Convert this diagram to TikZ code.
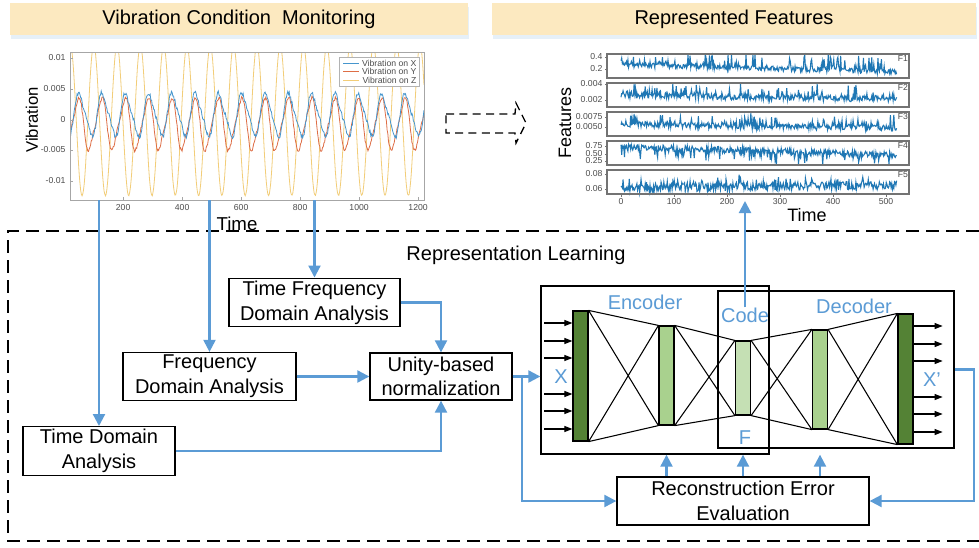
\documentclass[tikz,border=0pt]{standalone}
\usepackage{fontspec}
\setmainfont{Liberation Sans}
\usetikzlibrary{arrows.meta, calc, positioning, shadows}
\definecolor{flowblue}{RGB}{91,155,213}
\definecolor{barfill}{RGB}{252,233,192}
\definecolor{darkgreen}{RGB}{84,130,53}
\definecolor{midgreen}{RGB}{169,209,142}
\definecolor{palegreen}{RGB}{197,224,180}
\definecolor{plotx}{RGB}{70,150,205}
\definecolor{ploty}{RGB}{222,110,70}
\definecolor{plotz}{RGB}{242,205,120}
\definecolor{featblue}{RGB}{31,119,180}
\tikzstyle{flow} = [draw=flowblue, line width=1.6pt, -{Triangle[length=9pt,width=9pt]}]

\begin{document}
\begin{tikzpicture}[x=0.75pt, y=-0.75pt,
    font=\fontsize{15}{18.5}\selectfont,
    titlebar/.style={rectangle, fill=barfill, minimum height=24pt, inner sep=0pt,
                     drop shadow={shadow xshift=0.8pt, shadow yshift=-3pt, opacity=0.6, fill=flowblue!25}},
    procbox/.style={rectangle, draw, line width=1pt, align=center, inner sep=2pt},
    netbox/.style={rectangle, draw, line width=1pt, inner sep=0pt},
    nnlayer/.style={rectangle, draw, line width=0.9pt, minimum width=11.25pt, inner sep=0pt},
    bluelbl/.style={text=flowblue, inner sep=0pt},
    ticklbl/.style={font=\fontsize{6.5}{7}\selectfont, text=black!70, inner sep=1pt},
    panel/.style={rectangle, draw=black!55, line width=0.8pt, minimum width=226.5pt,
                  minimum height=18pt, inner sep=0pt},
    wire/.style={line width=0.8pt},
    inarr/.style={line width=0.8pt, -{Triangle[length=6pt,width=4.5pt]}},
]
\path[use as bounding box, fill=white] (0,0) rectangle (979,547);

% Header bars
\node[titlebar, minimum width=343.5pt] (vcm) at (239,19) {Vibration Condition\ \ Monitoring};
\node[titlebar, minimum width=363pt] (rfeat) at (734,19) {Represented Features};

% Raw vibration signals (period 79 samples)
\begin{scope}
  \clip (70,52) rectangle (424,200);
  \pgfmathsetseed{7}
  \draw[plotz, line width=0.6pt] plot[domain=20:1220, samples=500]
      ({70+0.295*(\x-20)}, {120+75*cos(4.557*(\x-61))+rnd});
  \draw[ploty, line width=0.6pt] plot[domain=20:1220, samples=500]
      ({70+0.295*(\x-20)}, {120-6.15*(-1+4*sin(4.557*(\x-27))-0.8*sin(9.114*(\x-27))+0.6*rnd)});
  \draw[plotx, line width=0.6pt] plot[domain=20:1220, samples=500]
      ({70+0.295*(\x-20)}, {120-6.15*(0.5+3.3*sin(4.557*(\x-112))+0.7*sin(9.114*(\x-112))+0.7*rnd)});
\end{scope}
\node[rectangle, draw=black!35, line width=0.6pt, minimum width=265.5pt, minimum height=111pt,
      inner sep=0pt] (vib) at (247,126) {};
\foreach \yv/\tv in {58/0.01, 89/0.005, 120/0, 150/-0.005, 181/-0.01} {
  \draw[black!35] (70,\yv) -- (73,\yv);
  \node[ticklbl, anchor=east] at (67,\yv) {\tv};
}
\foreach \tv in {200,400,...,1200} {
  \draw[black!35] ({70+0.295*(\tv-20)},200) -- ({70+0.295*(\tv-20)},197);
  \node[ticklbl] at ({70+0.295*(\tv-20)},208) {\tv};
}
\node[rotate=90, font=\fontsize{12.5}{14}\selectfont] (vlab) at (32,120) {Vibration};
\node[font=\fontsize{14}{16}\selectfont] (vtime) at (237,224) {Time};

% legend
\node[rectangle, draw=black!30, fill=white, minimum width=60pt, minimum height=21.75pt,
      inner sep=0pt] (legend) at (379,71.5) {};
\foreach \yv/\col/\ax in {63/plotx/X, 71.5/ploty/Y, 80/plotz/Z} {
  \draw[\col, line width=0.6pt] (343,\yv) -- (359,\yv);
  \node[ticklbl, anchor=east] at (418,\yv) {Vibration on \ax};
}

% Block arrow between the two plots
\draw[line width=1pt, dash pattern=on 6pt off 4pt]
  (446,114) -- (515,114) -- (516,103) -- (526,123) -- (516,143) -- (515,133) -- (446,133) -- cycle;

% Feature traces F1..F5
\pgfmathsetseed{21}
\foreach \cy/\ya/\yb/\ns/\sp in {66/0.15/0.3/0.2/0.65, 95/0.2/0.15/0.25/0.5,
    124/0.2/0.15/0.25/0.5, 153/0.3/0.35/0.25/-0.45, 182/0.2/-0.15/0.35/0.35}
  \draw[featblue, line width=0.8pt] plot[domain=0:520, samples=400]
      ({621+0.53*\x}, {\cy+12-24*min(0.95,max(0.04,\ya+\yb*(1-\x/520)+\ns*rnd+\sp*rnd^8))});
\foreach \i/\cy in {1/66, 2/95, 3/124, 4/153, 5/182} {
  \node[panel] (f\i) at (758,\cy) {};
  \node[ticklbl, anchor=north east] at (f\i.north east) {F\i};
}
\foreach \yv/\tv in {57/0.4, 69/0.2, 84/0.004, 100/0.002, 117/0.0075, 127/0.0050,
    146/0.75, 154/0.50, 161/0.25, 174/0.08, 189/0.06} {
  \draw[black!55] (605,\yv) -- (607,\yv);
  \node[ticklbl, anchor=east] at (604,\yv) {\tv};
}
\foreach \tv in {0,100,...,500} {
  \draw[black!55] ({621+0.53*\tv},194) -- ({621+0.53*\tv},197);
  \node[ticklbl] at ({621+0.53*\tv},202) {\tv};
}
\node[rotate=90, font=\fontsize{13.5}{15}\selectfont] (flab) at (565,123) {Features};
\node[font=\fontsize{13.5}{15}\selectfont] (ftime) at (807,215) {Time};
\coordinate (featfoot) at (745,201);

% Representation learning frame
\draw[line width=1pt, dash pattern=on 10pt off 5pt] (979,231) -- (8,231) -- (8,541) -- (979,541);
\node (replbl) at (516,255) {Representation Learning};

% Feature extraction boxes
\node[procbox, minimum width=128.25pt, minimum height=35.25pt] (tfda) at (314.5,302.5)
    {Time Frequency\\Domain Analysis};
\node[procbox, minimum width=129.75pt, minimum height=35.25pt] (fda) at (209.5,376.5)
    {Frequency\\Domain Analysis};
\node[procbox, minimum width=106.5pt, minimum height=35.25pt] (norm) at (441,376.5)
    {Unity-based\\normalization};
\node[procbox, minimum width=114pt, minimum height=36pt] (tda) at (99,451)
    {Time Domain\\Analysis};
\node[procbox, minimum width=189pt, minimum height=36pt] (recon) at (743,501)
    {Reconstruction Error\\Evaluation};

% Autoencoder
\node[netbox, minimum width=171pt, minimum height=126pt] (enc) at (655,370) {};
\node[netbox, minimum width=177pt, minimum height=117.75pt] (dec) at (836,369.5) {};

\node[nnlayer, fill=darkgreen, minimum height=97.5pt] (l1) at (580.5,376) {};
\node[nnlayer, fill=midgreen, minimum height=74.25pt] (l2) at (666.5,375.5) {};
\node[nnlayer, fill=palegreen, minimum height=55.5pt] (l3) at (743,378) {};
\node[nnlayer, fill=midgreen, minimum height=74.25pt] (l4) at (820,379.5) {};
\node[nnlayer, fill=darkgreen, minimum height=97.5pt] (l5) at (905.5,379) {};
\foreach \la/\lb in {l1/l2, l2/l3, l3/l4, l4/l5}
  \draw[wire] (\la.north east) -- (\lb.north west) (\la.south east) -- (\lb.south west)
              (\la.north east) -- (\lb.south west) (\la.south east) -- (\lb.north west);
\foreach \dy in {-53,-35,-18,18,35,53} {
  \draw[inarr] ($(l1.west)+(-28,\dy)$) -- ($(l1.west)+(0,\dy)$);
  \draw[inarr] ($(l5.east)+(0,\dy)$) -- ($(l5.east)+(29,\dy)$);
}

\node[bluelbl] (enclbl) at (645,302) {Encoder};
\node[bluelbl] (codelbl) at (745,315) {Code};
\node[bluelbl] (declbl) at (854,306) {Decoder};
\node[bluelbl] (flbl) at (745,438) {F};
\node[bluelbl] (xin) at (561,377) {X};
\node[bluelbl] (xout) at (932,380) {X'};

% Blue connectors
\draw[flow] (tda.north |- vib.south) -- (tda.north);
\draw[flow] (fda.north |- vib.south) -- (fda.north);
\draw[flow] (tfda.north |- vib.south) -- (tfda.north);
\draw[flow] (tfda.east) -| (norm.north);
\draw[flow] (fda.east) -- (norm.west);
\draw[flow] (tda.east) -| (norm.south);
\coordinate (split) at ($(norm.east)+(9,0)$);
\draw[flow] (norm.east) -- (norm.east -| enc.west);
\draw[flow] (split) |- (recon.west);
\draw[flow] (dec.east) -- ++(19,0) |- (recon.east);
\foreach \l in {l2,l3,l4}
  \draw[flow] (recon.north -| \l) -- (\l |- enc.south);
\draw[flow] (codelbl.north) -- (codelbl.north |- featfoot);
\end{tikzpicture}
\end{document}
